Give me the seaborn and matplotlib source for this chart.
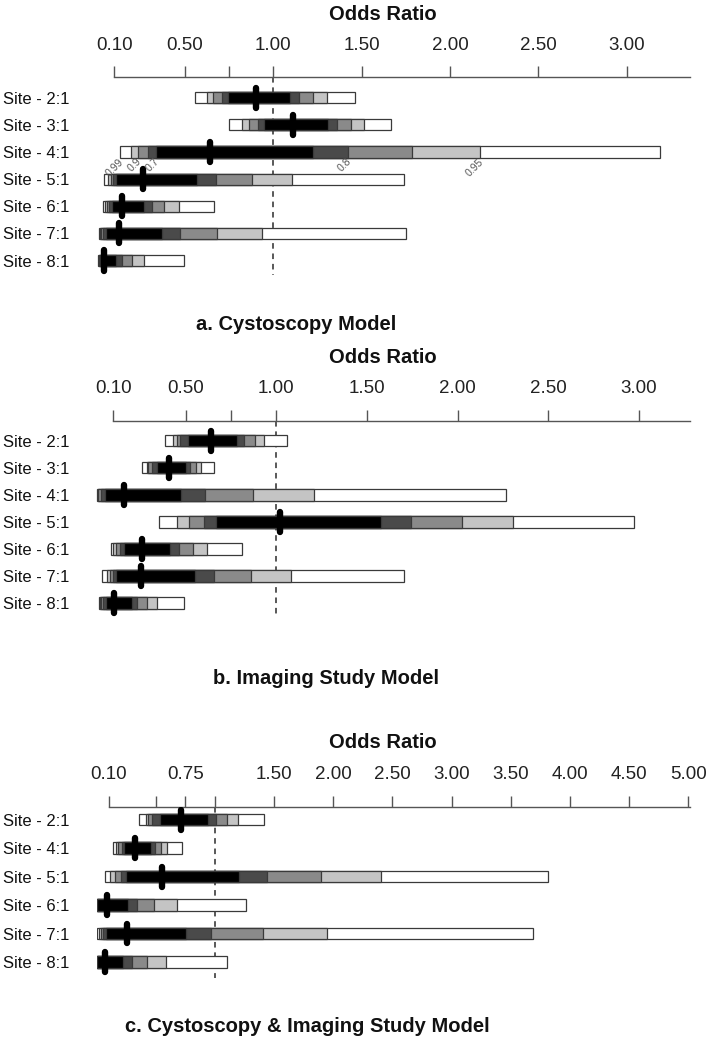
import numpy as np
import pandas as pd
import matplotlib
matplotlib.use("Agg")
import matplotlib.pyplot as plt
import seaborn as sns

# ── Data ──────────────────────────────────────────────────────────────────────
# credible intervals: 0.99 / 0.95 / 0.90 / 0.80 / 0.70, plus point estimate
a_sites = ["Site - 2:1", "Site - 3:1", "Site - 4:1", "Site - 5:1", "Site - 6:1", "Site - 7:1", "Site - 8:1"]
a_est = [0.902, 1.113, 0.642, 0.264, 0.145, 0.128, 0.042]
a_lo99 = [0.557, 0.749, 0.132, 0.044, 0.035, 0.014, 0.010]
a_lo95 = [0.623, 0.821, 0.195, 0.066, 0.048, 0.019, 0.014]
a_lo90 = [0.660, 0.862, 0.236, 0.080, 0.061, 0.025, 0.016]
a_lo80 = [0.711, 0.915, 0.293, 0.095, 0.072, 0.035, 0.019]
a_lo70 = [0.742, 0.947, 0.336, 0.110, 0.085, 0.052, 0.025]
a_hi70 = [1.095, 1.311, 1.226, 0.566, 0.270, 0.368, 0.110]
a_hi80 = [1.145, 1.362, 1.424, 0.674, 0.312, 0.472, 0.142]
a_hi90 = [1.223, 1.440, 1.787, 0.878, 0.383, 0.680, 0.199]
a_hi95 = [1.302, 1.513, 2.170, 1.106, 0.465, 0.934, 0.270]
a_hi99 = [1.462, 1.664, 3.188, 1.740, 0.666, 1.749, 0.496]

b_sites = ["Site - 2:1", "Site - 3:1", "Site - 4:1", "Site - 5:1", "Site - 6:1", "Site - 7:1", "Site - 8:1"]
b_est = [0.638, 0.410, 0.162, 1.020, 0.261, 0.252, 0.106]
b_lo99 = [0.386, 0.261, 0.009, 0.353, 0.087, 0.040, 0.022]
b_lo95 = [0.432, 0.285, 0.014, 0.454, 0.101, 0.065, 0.028]
b_lo90 = [0.451, 0.294, 0.018, 0.518, 0.116, 0.083, 0.031]
b_lo80 = [0.469, 0.313, 0.031, 0.601, 0.138, 0.101, 0.042]
b_lo70 = [0.515, 0.340, 0.055, 0.667, 0.162, 0.116, 0.059]
b_hi70 = [0.782, 0.502, 0.473, 1.576, 0.414, 0.552, 0.202]
b_hi80 = [0.822, 0.524, 0.607, 1.743, 0.463, 0.658, 0.233]
b_hi90 = [0.883, 0.557, 0.873, 2.023, 0.539, 0.859, 0.285]
b_hi95 = [0.934, 0.583, 1.208, 2.304, 0.616, 1.081, 0.344]
b_hi99 = [1.057, 0.656, 2.267, 2.975, 0.809, 1.706, 0.493]

c_sites = ["Site - 2:1", "Site - 4:1", "Site - 5:1", "Site - 6:1", "Site - 7:1", "Site - 8:1"]
c_est = [0.710, 0.324, 0.549, 0.085, 0.254, 0.070]
c_lo99 = [0.358, 0.140, 0.070, 0.000, 0.005, 0.000]
c_lo95 = [0.417, 0.163, 0.112, 0.000, 0.019, 0.000]
c_lo90 = [0.436, 0.183, 0.155, 0.000, 0.034, 0.000]
c_lo80 = [0.465, 0.211, 0.203, 0.000, 0.056, 0.000]
c_lo70 = [0.535, 0.233, 0.245, 0.000, 0.079, 0.000]
c_hi70 = [0.943, 0.456, 1.205, 0.262, 0.752, 0.225]
c_hi80 = [1.008, 0.493, 1.442, 0.338, 0.964, 0.296]
c_hi90 = [1.104, 0.544, 1.896, 0.484, 1.408, 0.423]
c_hi95 = [1.197, 0.597, 2.401, 0.676, 1.949, 0.586]
c_hi99 = [1.414, 0.724, 3.817, 1.262, 3.691, 1.099]

ab_ticks = [0.10, 0.50, 0.75, 1.00, 1.50, 2.00, 2.50, 3.00]
ab_ticklabels = ["0.10", "0.50", "", "1.00", "1.50", "2.00", "2.50", "3.00"]
c_ticks = [0.10, 0.50, 0.75, 1.00, 1.50, 2.00, 2.50, 3.00, 3.50, 4.00, 4.50, 5.00]
c_ticklabels = ["0.10", "", "0.75", "", "1.50", "2.00", "2.50", "3.00", "3.50", "4.00", "4.50", "5.00"]

# ── Style ─────────────────────────────────────────────────────────────────────
sns.set_theme(style="white")
plt.rcParams["font.family"] = ["Liberation Sans Narrow", "Liberation Sans", "DejaVu Sans"]

LEVEL_COLORS = ["#ffffff", "#c4c4c4", "#8a8a8a", "#4a4a4a", "#000000"]
EDGE = "#3a3a3a"
AXIS_C = "#555555"
W, H = 710, 1050
LABEL_X = 3  # px, left edge of the site labels

fig = plt.figure(figsize=(W / 100, H / 100), dpi=100)


def rect(left, right, top, bottom):
    return [left / W, 1 - bottom / H, (right - left) / W, (bottom - top) / H]


def draw_panel(ax, left_px, sites, est, lows, highs, xlim, ylim, ticks,
               ticklabels, bar_h, mark_half, dash_end):
    n = len(sites)
    # reference line at OR = 1
    ax.plot([1.0, 1.0], [ylim[1], dash_end], ls=(0, (3.5, 3)), color="#333333",
            lw=1.15, zorder=0)
    # nested intervals, widest first
    for lo, hi, col in zip(lows, highs, LEVEL_COLORS):
        df = pd.DataFrame({"site": sites, "width": np.array(hi) - np.array(lo)})
        sns.barplot(data=df, x="width", y="site", orient="y", left=lo,
                    color=col, saturation=1, width=bar_h, edgecolor=EDGE,
                    linewidth=0.9, errorbar=None, ax=ax, zorder=2)
    ax.vlines(est, np.arange(n) - mark_half, np.arange(n) + mark_half,
              colors="black", linewidth=4.6, capstyle="round", zorder=3)

    ax.set_xlim(*xlim)
    ax.set_ylim(*ylim)
    ax.set_xlabel("")
    ax.set_ylabel("")
    for side in ["left", "right", "bottom"]:
        ax.spines[side].set_visible(False)
    ax.spines["top"].set_visible(True)
    ax.spines["top"].set_bounds(0.10, xlim[1])
    ax.spines["top"].set_color(AXIS_C)
    ax.spines["top"].set_linewidth(1.0)
    ax.xaxis.tick_top()
    ax.set_xticks(ticks)
    ax.set_xticklabels(ticklabels)
    ax.tick_params(axis="x", direction="out", length=7.6, width=1.0,
                   color=AXIS_C, pad=9.5, labelsize=13.5, labelcolor="#222222")
    ax.set_yticks(range(n))
    ax.set_yticklabels(sites, ha="left")
    ax.tick_params(axis="y", length=0, pad=(left_px - LABEL_X) * 0.72,
                   labelsize=12, labelcolor="#111111")
    ax.patch.set_alpha(0)


# ── Panel a ───────────────────────────────────────────────────────────────────
ax_a = fig.add_axes(rect(96.6, 690, 77.3, 280.9))
draw_panel(ax_a, 96.6, a_sites, a_est,
           [a_lo99, a_lo95, a_lo90, a_lo80, a_lo70],
           [a_hi99, a_hi95, a_hi90, a_hi80, a_hi70],
           (0, 3.358), (6.75, -0.75), ab_ticks, ab_ticklabels,
           0.41, 0.37, 6.53)

# interval labels under Site 4
for txt, xv in [("0.99", a_lo99[2]), ("0.9", a_lo90[2]), ("0.7", a_lo70[2]),
                ("0.8", a_hi80[2]), ("0.95", a_hi95[2])]:
    ax_a.text(xv + 0.01, 2 + 0.3, txt, rotation=45, rotation_mode="anchor",
              ha="right", va="center", fontsize=7.5, color="#555555", zorder=4)

# ── Panel b ───────────────────────────────────────────────────────────────────
ax_b = fig.add_axes(rect(95, 690, 420.7, 623.25))
draw_panel(ax_b, 95, b_sites, b_est,
           [b_lo99, b_lo95, b_lo90, b_lo80, b_lo70],
           [b_hi99, b_hi95, b_hi90, b_hi80, b_hi70],
           (0, 3.282), (6.75, -0.75), ab_ticks, ab_ticklabels,
           0.41, 0.37, 6.52)

# ── Panel c ───────────────────────────────────────────────────────────────────
ax_c = fig.add_axes(rect(96.7, 690, 806.7, 983.4))
draw_panel(ax_c, 96.7, c_sites, c_est,
           [c_lo99, c_lo95, c_lo90, c_lo80, c_lo70],
           [c_hi99, c_hi95, c_hi90, c_hi80, c_hi70],
           (0, 5.015), (5.75, -0.45), c_ticks, c_ticklabels,
           0.40, 0.35, 5.56)

# ── Titles ────────────────────────────────────────────────────────────────────
title_kw = dict(ha="center", va="center", fontsize=14.5, fontweight="bold", color="#111111")
fig.text(383 / W, 1 - 15 / H, "Odds Ratio", **title_kw)
fig.text(383 / W, 1 - 357 / H, "Odds Ratio", **title_kw)
fig.text(383 / W, 1 - 743 / H, "Odds Ratio", **title_kw)
fig.text(296 / W, 1 - 325 / H, "a. Cystoscopy Model", **title_kw)
fig.text(326 / W, 1 - 678 / H, "b. Imaging Study Model", **title_kw)
fig.text(307 / W, 1 - 1027 / H, "c. Cystoscopy & Imaging Study Model", **title_kw)

fig.savefig("out.png", dpi=100, facecolor="white")
